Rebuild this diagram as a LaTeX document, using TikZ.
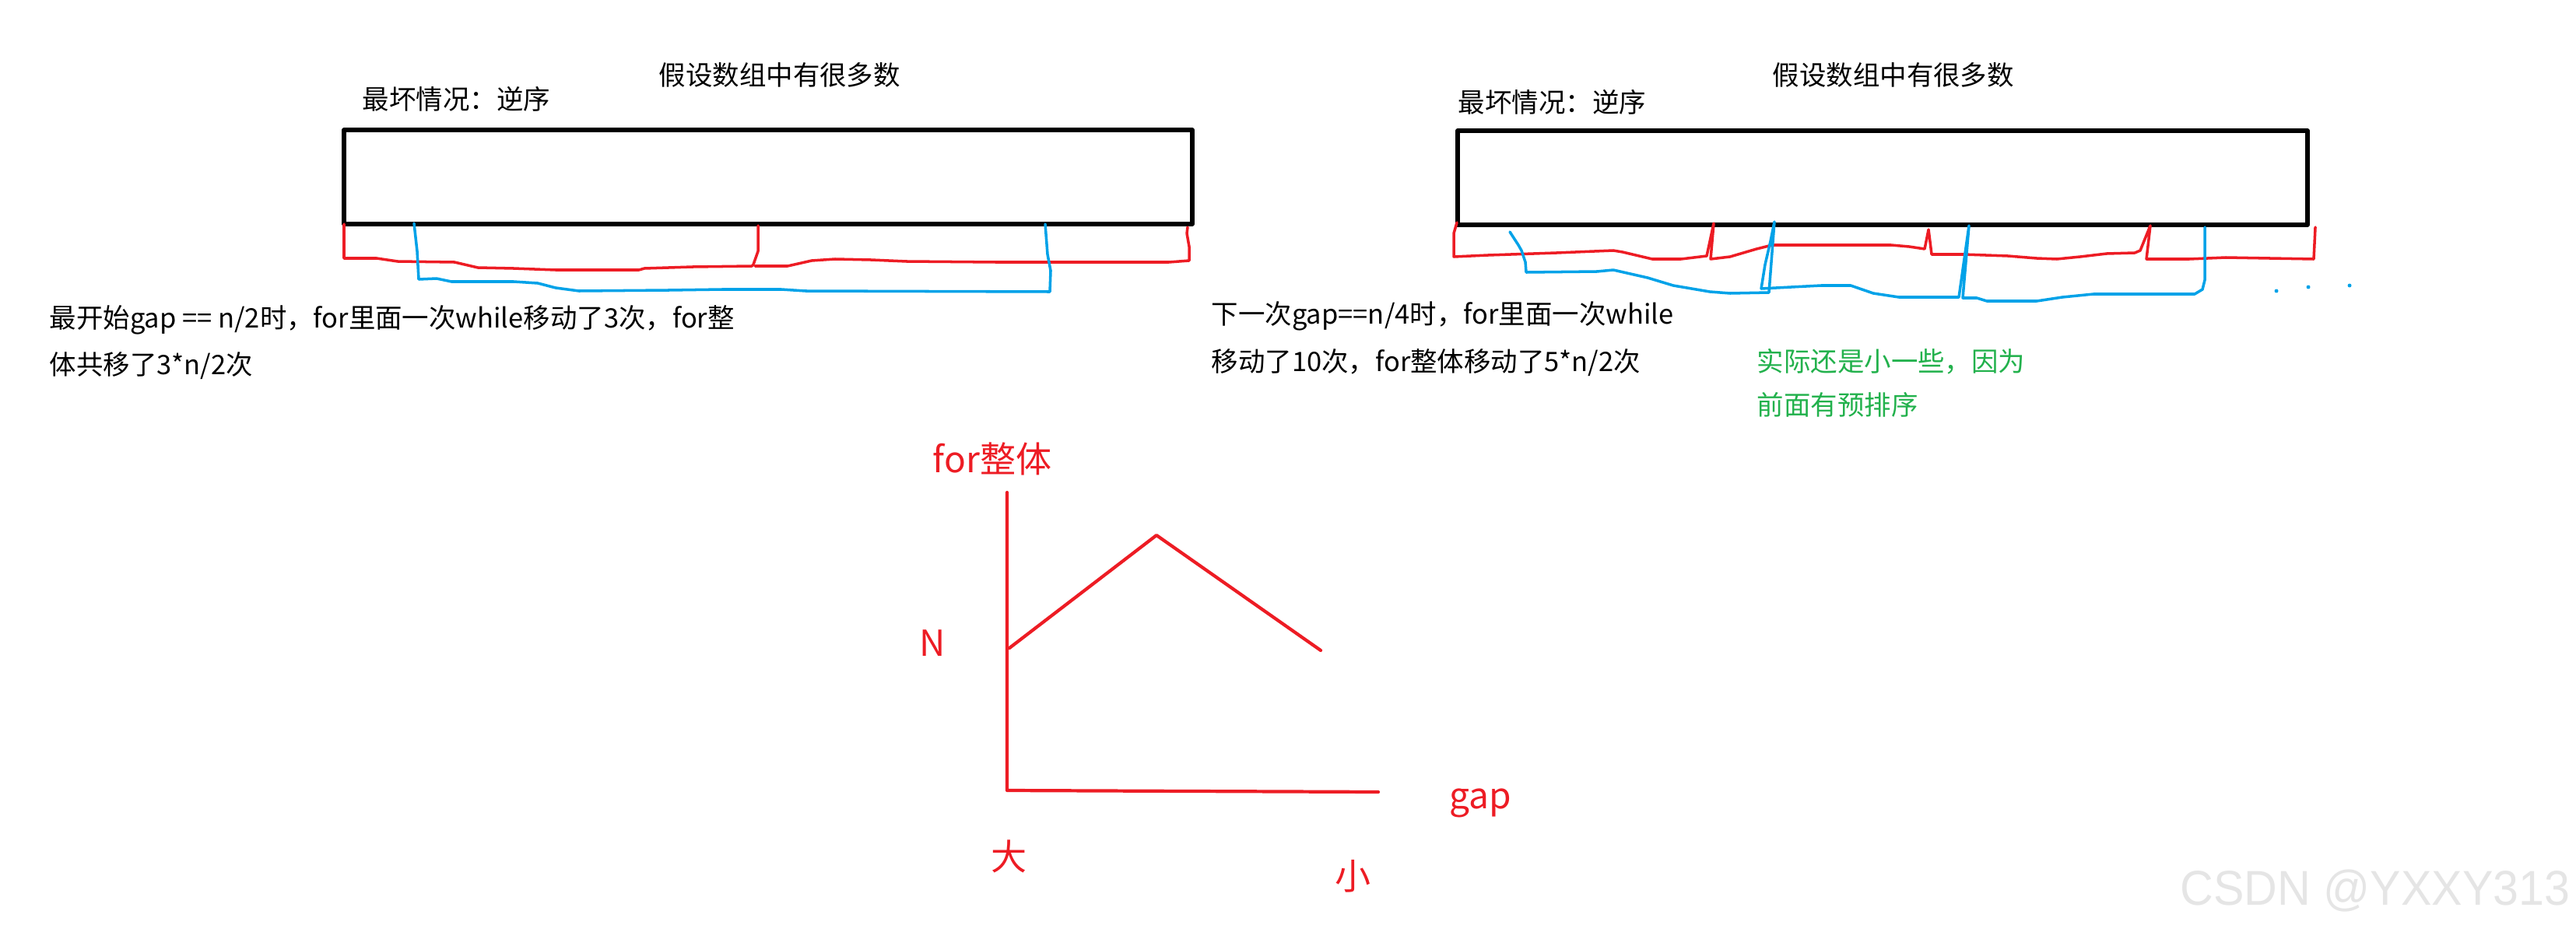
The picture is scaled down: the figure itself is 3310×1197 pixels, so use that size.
\documentclass[tikz,border=0pt]{standalone}
\usepackage{fontspec}
\setmainfont{Noto Sans CJK SC}
\newfontfamily\wmfont[FakeStretch=0.94]{Liberation Sans}

\definecolor{pred}{RGB}{237,28,36}
\definecolor{pblue}{RGB}{0,162,232}
\definecolor{pgreen}{RGB}{34,177,76}

\tikzset{
  note/.style={font=\fontsize{9.8pt}{12pt}\selectfont, inner sep=0pt, anchor=base west},
  axislbl/.style={font=\fontsize{13.1pt}{15pt}\selectfont, text=pred, inner sep=0pt, anchor=base west},
  arraybox/.style={line width=1.5pt},
  redpen/.style={pred, line width=1pt},
  bluepen/.style={pblue, line width=1pt},
  graphpen/.style={pred, line width=1.2pt},
}

\begin{document}
\begin{tikzpicture}[x=0.01cm, y=-0.01cm, line join=round, line cap=round]
    \useasboundingbox (0,0) rectangle (3310,1197);

    % Left array: gap = n/2
    \begin{scope}
        \node[note] (titleL) at (846,110) {假设数组中有很多数};
        \node[note] (worstL) at (465,140) {最坏情况：逆序};
        \draw[arraybox] (442,167) rectangle (1532,288);

        % red groups
        \draw[redpen] (442,288) -- (442,332) -- (484,332) -- (511,336) -- (584,337) -- (614,344)
            -- (660,345) -- (714,347) -- (821,347) -- (828,345) -- (890,343) -- (966,342)
            -- (968,340) -- (974,323) -- (974,290);
        \draw[redpen] (970,342) -- (1012,342) -- (1043,335) -- (1073,333) -- (1119,334)
            -- (1165,336) -- (1280,337) -- (1502,337) -- (1528,335) -- (1528,317)
            -- (1525,300) -- (1526,292);

        % blue group
        \draw[bluepen] (532,287) -- (536,323) -- (538,359) -- (561,358) -- (580,362)
            -- (660,362) -- (691,364) -- (714,370) -- (744,374) -- (859,373) -- (928,372)
            -- (1004,372) -- (1035,374) -- (1349,375) -- (1350,348) -- (1346,327) -- (1343,288);

        \node[note] (stepL1) at (63,421) {最开始gap == n/2时，for里面一次while移动了3次，for整};
        \node[note] (stepL2) at (63,481) {体共移了3*n/2次};
    \end{scope}

    % Right array: gap = n/4
    \begin{scope}
        \node[note] (titleR) at (2277,110) {假设数组中有很多数};
        \node[note] (worstR) at (1873,145) {最坏情况：逆序};
        \draw[arraybox] (1873,168) rectangle (2965,289);

        % red groups
        \draw[redpen] (1872,286) -- (1868,300) -- (1868,330) -- (1912,328) -- (2000,325)
            -- (2073,322) -- (2085,324) -- (2123,333) -- (2160,333) -- (2193,329)
            -- (2202,287) -- (2198,333) -- (2223,330) -- (2257,320) -- (2277,315)
            -- (2430,315) -- (2453,317) -- (2473,320) -- (2478,295) -- (2482,327)
            -- (2523,327) -- (2580,329) -- (2617,332) -- (2643,333) -- (2673,330)
            -- (2707,326) -- (2743,325) -- (2750,322) -- (2763,290) -- (2758,333)
            -- (2813,333) -- (2860,331) -- (2973,333) -- (2975,292);

        % blue groups
        \draw[bluepen] (1940,298) -- (1951,315) -- (1955,322) -- (1960,337) -- (1961,350)
            -- (2052,349) -- (2073,347) -- (2117,357) -- (2150,367) -- (2197,375)
            -- (2223,377) -- (2273,376) -- (2280,285) -- (2275,310) -- (2268,340)
            -- (2263,371) -- (2340,367) -- (2378,367) -- (2407,377) -- (2440,382)
            -- (2517,382) -- (2530,290) -- (2522,383) -- (2540,383) -- (2553,387)
            -- (2617,387) -- (2650,382) -- (2690,378) -- (2820,378) -- (2830,372)
            -- (2833,360) -- (2833,292);
        \foreach \px/\py in {2925/374, 2966/369, 3019/367}
            \fill[pblue] (\px,\py) circle (0.7pt);

        \node[note] (stepR1) at (1556,416) {下一次gap==n/4时，for里面一次while};
        \node[note] (stepR2) at (1556,477) {移动了10次，for整体移动了5*n/2次};
        \node[note, text=pgreen] (realR1) at (2257,477) {实际还是小一些，因为};
        \node[note, text=pgreen] (realR2) at (2257,533) {前面有预排序};
    \end{scope}

    % Cost of the whole for loop against gap
    \coordinate (ytop) at (1294,633);
    \coordinate (origin) at (1294,1016);
    \coordinate (xend) at (1771,1018);
    \coordinate (startN) at (1297,833);
    \coordinate (peak) at (1486,688);
    \coordinate (tail) at (1697,836);
    \draw[graphpen] (ytop) -- (origin) -- (xend);
    \draw[graphpen] (startN) -- (peak) -- (tail);

    \node[axislbl] (ylbl) at (1198,607) {for整体};
    \node[axislbl] (nlbl) at (1181,843) {N};
    \node[axislbl] (biglbl) at (1273,1118) {大};
    \node[axislbl] (smalllbl) at (1715,1143) {小};
    \node[axislbl] (xlbl) at (1862,1039) {gap};

    \node[inner sep=0pt, anchor=base west, text=black!10, font=\wmfont\fontsize{17.9pt}{20pt}\selectfont]
        (mark) at (2801,1163) {CSDN @YXXY313};
\end{tikzpicture}
\end{document}
